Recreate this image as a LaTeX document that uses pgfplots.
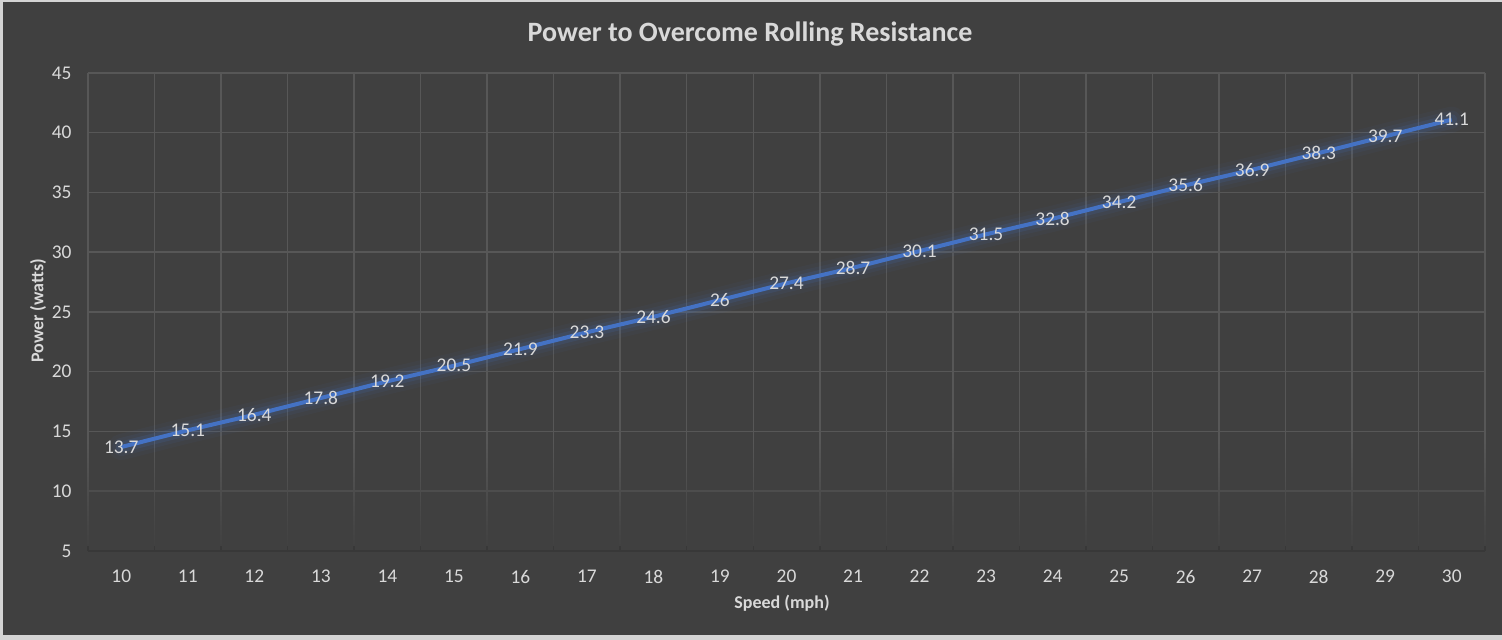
\documentclass[border=0pt]{standalone}
\usepackage{pgfplots}
\pgfplotsset{compat=1.18}
\usepackage{fontspec}
\setmainfont{Carlito}
\usetikzlibrary{fadings}
\definecolor{bg}{HTML}{404040}
\definecolor{txt}{HTML}{D9D9D9}
\definecolor{gridc}{HTML}{575757}
\definecolor{bline}{HTML}{4472C4}
\definecolor{frame}{HTML}{D4D4D4}
\definecolor{botline}{HTML}{383838}
\tikzfading[name=gridfade, top color=transparent!100, bottom color=transparent!0]
\begin{document}
\begin{tikzpicture}
\fill[frame] (0,0) rectangle (751pt,320pt);
\fill[bg] (1.5pt,2.5pt) rectangle (751pt,319pt);
\begin{axis}[
  at={(44pt,44.5pt)}, anchor=south west,
  scale only axis, width=698.5pt, height=239pt,
  xmin=9.5, xmax=30.5, ymin=5, ymax=45,
  xtick={10,...,30}, ytick={5,10,...,45},
  minor xtick={9.5,10.5,...,30.5},
  xminorgrids, ymajorgrids,
  axis line style={draw=none},
  major tick length=0pt, minor tick length=0pt,
  grid style={gridc, line width=0.75pt},
  minor grid style={gridc, line width=0.75pt},
  tick label style={font=\fontsize{9.7}{11}\selectfont, text=txt},
  /pgf/number format/assume math mode=true,
  xticklabel style={yshift=-6pt},
  yticklabel style={xshift=-4.7pt},
  clip=false,
]
\fill[bg, path fading=gridfade] (axis cs:9.4,4.8) rectangle (axis cs:30.6,14);
\draw[botline, line width=0.75pt] (axis cs:9.5,5) -- (axis cs:30.5,5);
\pgfplotsinvokeforeach{9.5,10.5,...,30.5}{\draw[botline, line width=0.75pt] (axis cs:#1,5) -- (axis cs:#1,5.42);}
\pgfplotstableread{
x y
10 13.7
11 15.1
12 16.4
13 17.8
14 19.2
15 20.5
16 21.9
17 23.3
18 24.6
19 26
20 27.4
21 28.7
22 30.1
23 31.5
24 32.8
25 34.2
26 35.6
27 36.9
28 38.3
29 39.7
30 41.1
}\datatable
\addplot[bline, opacity=0.05, line width=13pt, line cap=round] table[x=x,y=y] {\datatable};
\addplot[bline, opacity=0.08, line width=9pt, line cap=round] table[x=x,y=y] {\datatable};
\addplot[bline, opacity=0.14, line width=5.5pt, line cap=round] table[x=x,y=y] {\datatable};
\addplot[bline, line width=2pt, line join=round,
  nodes near coords,
  nodes near coords style={anchor=center, font=\fontsize{9.7}{11}\selectfont, text=txt}]
  table[x=x,y=y] {\datatable};
\end{axis}
\node[text=txt, font=\fontsize{14}{16}\selectfont\bfseries] at (375pt,303pt) {Power to Overcome Rolling Resistance};
\node[text=txt, font=\fontsize{9}{11}\selectfont\bfseries] at (391pt,18.5pt) {Speed (mph)};
\node[text=txt, font=\fontsize{9}{11}\selectfont\bfseries, rotate=90] at (19pt,164.5pt) {Power (watts)};
\end{tikzpicture}
\end{document}
